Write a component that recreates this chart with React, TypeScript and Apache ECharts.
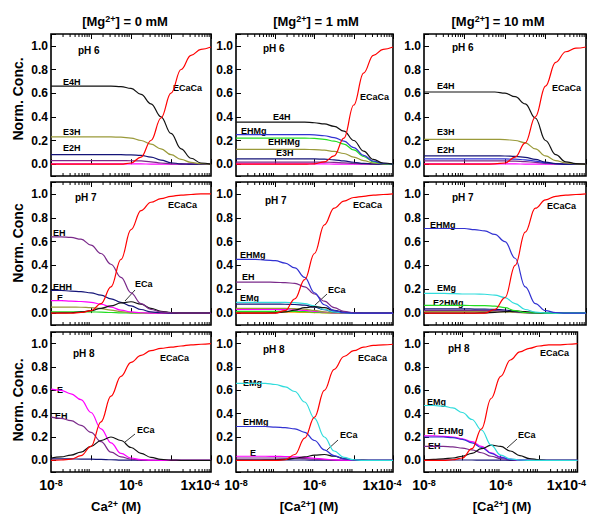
import React, { useEffect, useRef } from "react";
import * as echarts from "echarts";

// ---------- DATA ----------
// [Ca2+] sample points (M), quarter-decade steps from 1e-8 to 1e-4
const CA = [1e-8, 1.78e-8, 3.16e-8, 5.62e-8, 1e-7, 1.78e-7, 3.16e-7, 5.62e-7, 1e-6, 1.78e-6, 3.16e-6, 5.62e-6, 1e-5, 1.78e-5, 3.16e-5, 5.62e-5, 1e-4];
const MINOR_TICKS = [
  2e-8, 3e-8, 4e-8, 5e-8, 6e-8, 7e-8, 8e-8, 9e-8,
  2e-7, 3e-7, 4e-7, 5e-7, 6e-7, 7e-7, 8e-7, 9e-7,
  2e-6, 3e-6, 4e-6, 5e-6, 6e-6, 7e-6, 8e-6, 9e-6,
  2e-5, 3e-5, 4e-5, 5e-5, 6e-5, 7e-5, 8e-5, 9e-5,
];
const MG_LABELS = ["0", "1", "10"];
const PH_LABELS = ["pH 6", "pH 7", "pH 8"];
const Y_TITLES = ["Norm. Conc.", "Norm. Conc", "Norm. Conc."];

// pH 6, [Mg2+] = 0 mM
const p6m0_ECaCa = [0, 0, 0, 0, 0, 0, 0, 0, 0.01, 0.06, 0.2, 0.39, 0.6, 0.8, 0.92, 0.97, 0.99];
const p6m0_E4H = [0.66, 0.66, 0.66, 0.66, 0.66, 0.66, 0.66, 0.655, 0.64, 0.59, 0.51, 0.4, 0.26, 0.13, 0.05, 0.01, 0];
const p6m0_E3H = [0.23, 0.23, 0.23, 0.23, 0.23, 0.23, 0.23, 0.228, 0.22, 0.2, 0.17, 0.13, 0.08, 0.04, 0.015, 0.004, 0];
const p6m0_E2H = [0.08, 0.08, 0.08, 0.08, 0.08, 0.08, 0.08, 0.08, 0.078, 0.074, 0.06, 0.035, 0.012, 0.003, 0, 0, 0];
const p6m0_EH = [0.03, 0.03, 0.03, 0.03, 0.03, 0.03, 0.03, 0.03, 0.029, 0.027, 0.02, 0.01, 0.003, 0, 0, 0, 0];
const p6m0_E = [0.003, 0.003, 0.003, 0.003, 0.003, 0.003, 0.003, 0.003, 0.003, 0.002, 0.001, 0, 0, 0, 0, 0, 0];

// pH 6, [Mg2+] = 1 mM
const p6m1_ECaCa = [0, 0, 0, 0, 0, 0, 0, 0, 0.003, 0.02, 0.07, 0.22, 0.5, 0.77, 0.92, 0.97, 0.99];
const p6m1_E4H = [0.355, 0.355, 0.355, 0.355, 0.355, 0.355, 0.355, 0.355, 0.35, 0.34, 0.32, 0.28, 0.2, 0.11, 0.04, 0.01, 0];
const p6m1_EHMg = [0.25, 0.25, 0.25, 0.25, 0.25, 0.25, 0.25, 0.25, 0.248, 0.24, 0.225, 0.195, 0.14, 0.075, 0.025, 0.006, 0];
const p6m1_EHHMg = [0.22, 0.22, 0.22, 0.22, 0.22, 0.22, 0.22, 0.22, 0.218, 0.21, 0.195, 0.17, 0.12, 0.065, 0.02, 0.005, 0];
const p6m1_E3H = [0.125, 0.125, 0.125, 0.125, 0.125, 0.125, 0.125, 0.125, 0.123, 0.118, 0.108, 0.09, 0.06, 0.03, 0.01, 0.002, 0];
const p6m1_E2H = [0.045, 0.045, 0.045, 0.045, 0.045, 0.045, 0.045, 0.045, 0.044, 0.042, 0.037, 0.028, 0.016, 0.007, 0.002, 0, 0];
const p6m1_EH = [0.018, 0.018, 0.018, 0.018, 0.018, 0.018, 0.018, 0.018, 0.018, 0.017, 0.015, 0.011, 0.006, 0.003, 0.001, 0, 0];
const p6m1_E = [0.002, 0.002, 0.002, 0.002, 0.002, 0.002, 0.002, 0.002, 0.002, 0.002, 0.001, 0, 0, 0, 0, 0, 0];

// pH 6, [Mg2+] = 10 mM
const p6m10_ECaCa = [0, 0, 0, 0, 0, 0, 0, 0.002, 0.01, 0.06, 0.18, 0.4, 0.66, 0.86, 0.95, 0.98, 0.99];
const p6m10_E4H = [0.61, 0.61, 0.61, 0.61, 0.61, 0.61, 0.61, 0.61, 0.6, 0.57, 0.51, 0.39, 0.2, 0.08, 0.02, 0.005, 0];
const p6m10_E3H = [0.21, 0.21, 0.21, 0.21, 0.21, 0.21, 0.21, 0.21, 0.208, 0.2, 0.18, 0.13, 0.07, 0.03, 0.01, 0.002, 0];
const p6m10_E2H = [0.07, 0.07, 0.07, 0.07, 0.07, 0.07, 0.07, 0.07, 0.069, 0.066, 0.058, 0.04, 0.018, 0.005, 0.001, 0, 0];
const p6m10_EHMg = [0.045, 0.045, 0.045, 0.045, 0.045, 0.045, 0.045, 0.045, 0.044, 0.042, 0.037, 0.026, 0.012, 0.004, 0.001, 0, 0];
const p6m10_EH = [0.028, 0.028, 0.028, 0.028, 0.028, 0.028, 0.028, 0.028, 0.027, 0.026, 0.022, 0.015, 0.007, 0.002, 0, 0, 0];
const p6m10_E = [0.003, 0.003, 0.003, 0.003, 0.003, 0.003, 0.003, 0.003, 0.003, 0.002, 0.001, 0, 0, 0, 0, 0, 0];

// pH 7, [Mg2+] = 0 mM
const p7m0_ECaCa = [0, 0, 0, 0.005, 0.02, 0.08, 0.22, 0.45, 0.7, 0.86, 0.93, 0.96, 0.98, 0.99, 0.995, 1, 1];
const p7m0_EH = [0.64, 0.64, 0.635, 0.62, 0.57, 0.5, 0.41, 0.3, 0.17, 0.08, 0.03, 0.01, 0.003, 0, 0, 0, 0];
const p7m0_EHH = [0.19, 0.19, 0.185, 0.18, 0.17, 0.15, 0.12, 0.09, 0.06, 0.03, 0.01, 0.003, 0, 0, 0, 0, 0];
const p7m0_E = [0.105, 0.105, 0.1, 0.097, 0.09, 0.075, 0.05, 0.025, 0.01, 0.003, 0, 0, 0, 0, 0, 0, 0];
const p7m0_ECa = [0, 0.001, 0.003, 0.01, 0.02, 0.04, 0.06, 0.085, 0.095, 0.075, 0.04, 0.015, 0.005, 0, 0, 0, 0];
const p7m0_E2H = [0.05, 0.05, 0.05, 0.049, 0.046, 0.038, 0.025, 0.012, 0.004, 0.001, 0, 0, 0, 0, 0, 0, 0];
const p7m0_E3H = [0.01, 0.01, 0.01, 0.01, 0.01, 0.008, 0.005, 0.002, 0, 0, 0, 0, 0, 0, 0, 0, 0];

// pH 7, [Mg2+] = 1 mM
const p7m1_ECaCa = [0, 0, 0, 0, 0, 0.02, 0.12, 0.28, 0.5, 0.74, 0.88, 0.94, 0.97, 0.98, 0.99, 0.995, 1];
const p7m1_EHMg = [0.45, 0.45, 0.45, 0.445, 0.44, 0.42, 0.38, 0.3, 0.17, 0.07, 0.02, 0.005, 0, 0, 0, 0, 0];
const p7m1_EH = [0.26, 0.26, 0.26, 0.26, 0.258, 0.255, 0.25, 0.22, 0.16, 0.1, 0.045, 0.015, 0.003, 0, 0, 0, 0];
const p7m1_EMg = [0.09, 0.09, 0.09, 0.09, 0.09, 0.09, 0.088, 0.08, 0.06, 0.03, 0.01, 0.003, 0, 0, 0, 0, 0];
const p7m1_EHH = [0.075, 0.075, 0.075, 0.075, 0.075, 0.074, 0.072, 0.066, 0.05, 0.028, 0.01, 0.003, 0, 0, 0, 0, 0];
const p7m1_ECa = [0, 0, 0, 0, 0.002, 0.01, 0.025, 0.045, 0.055, 0.045, 0.022, 0.008, 0.002, 0, 0, 0, 0];
const p7m1_E2H = [0.04, 0.04, 0.04, 0.04, 0.04, 0.039, 0.037, 0.032, 0.022, 0.01, 0.003, 0.001, 0, 0, 0, 0, 0];
const p7m1_E = [0.03, 0.03, 0.03, 0.03, 0.03, 0.029, 0.027, 0.023, 0.015, 0.007, 0.002, 0, 0, 0, 0, 0, 0];
const p7m1_EHHMg = [0.015, 0.015, 0.015, 0.015, 0.015, 0.015, 0.014, 0.012, 0.008, 0.004, 0.001, 0, 0, 0, 0, 0, 0];
const p7m1_E2HMg = [0.008, 0.008, 0.008, 0.008, 0.008, 0.008, 0.007, 0.006, 0.004, 0.002, 0, 0, 0, 0, 0, 0, 0];

// pH 7, [Mg2+] = 10 mM
const p7m10_ECaCa = [0, 0, 0, 0, 0, 0, 0, 0.03, 0.13, 0.4, 0.68, 0.88, 0.95, 0.98, 0.99, 0.995, 1];
const p7m10_EHMg = [0.71, 0.71, 0.71, 0.71, 0.71, 0.7, 0.69, 0.66, 0.6, 0.46, 0.22, 0.08, 0.02, 0.005, 0, 0, 0];
const p7m10_EMg = [0.165, 0.165, 0.165, 0.163, 0.16, 0.16, 0.158, 0.15, 0.13, 0.08, 0.03, 0.008, 0.002, 0, 0, 0, 0];
const p7m10_E2HMg = [0.065, 0.065, 0.065, 0.065, 0.064, 0.063, 0.062, 0.058, 0.045, 0.02, 0.005, 0.001, 0, 0, 0, 0, 0];
const p7m10_EHH = [0.035, 0.035, 0.035, 0.035, 0.035, 0.034, 0.033, 0.031, 0.026, 0.015, 0.005, 0.001, 0, 0, 0, 0, 0];
const p7m10_EH = [0.022, 0.022, 0.022, 0.022, 0.022, 0.022, 0.021, 0.02, 0.017, 0.01, 0.004, 0.001, 0, 0, 0, 0, 0];
const p7m10_E2H = [0.012, 0.012, 0.012, 0.012, 0.012, 0.012, 0.012, 0.011, 0.009, 0.005, 0.002, 0, 0, 0, 0, 0, 0];
const p7m10_ECa = [0, 0, 0, 0, 0, 0, 0.002, 0.006, 0.012, 0.018, 0.012, 0.005, 0.001, 0, 0, 0, 0];

// pH 8, [Mg2+] = 0 mM
const p8m0_ECaCa = [0, 0.003, 0.01, 0.04, 0.12, 0.33, 0.55, 0.72, 0.84, 0.9, 0.94, 0.96, 0.97, 0.98, 0.99, 0.995, 1];
const p8m0_E = [0.61, 0.6, 0.57, 0.52, 0.41, 0.27, 0.15, 0.06, 0.02, 0.006, 0.001, 0, 0, 0, 0, 0, 0];
const p8m0_EH = [0.37, 0.36, 0.34, 0.3, 0.24, 0.16, 0.07, 0.03, 0.01, 0.003, 0, 0, 0, 0, 0, 0, 0];
const p8m0_ECa = [0.02, 0.03, 0.045, 0.07, 0.12, 0.17, 0.2, 0.17, 0.11, 0.06, 0.025, 0.008, 0.002, 0, 0, 0, 0];
const p8m0_EHH = [0.012, 0.012, 0.012, 0.011, 0.01, 0.008, 0.005, 0.002, 0.001, 0, 0, 0, 0, 0, 0, 0, 0];

// pH 8, [Mg2+] = 1 mM
const p8m1_ECaCa = [0, 0, 0, 0, 0, 0.005, 0.05, 0.19, 0.37, 0.6, 0.78, 0.89, 0.94, 0.97, 0.985, 0.99, 0.995];
const p8m1_EMg = [0.66, 0.66, 0.66, 0.66, 0.65, 0.63, 0.59, 0.5, 0.36, 0.2, 0.08, 0.025, 0.005, 0, 0, 0, 0];
const p8m1_EHMg = [0.29, 0.29, 0.29, 0.29, 0.285, 0.28, 0.27, 0.24, 0.17, 0.09, 0.04, 0.012, 0.003, 0, 0, 0, 0];
const p8m1_ECa = [0, 0, 0, 0.001, 0.003, 0.008, 0.018, 0.03, 0.045, 0.05, 0.035, 0.015, 0.004, 0.001, 0, 0, 0];
const p8m1_E = [0.035, 0.035, 0.035, 0.035, 0.034, 0.033, 0.03, 0.025, 0.018, 0.01, 0.004, 0.001, 0, 0, 0, 0, 0];
const p8m1_EH = [0.02, 0.02, 0.02, 0.02, 0.02, 0.019, 0.018, 0.015, 0.01, 0.005, 0.002, 0, 0, 0, 0, 0, 0];
const p8m1_EHH = [0.004, 0.004, 0.004, 0.004, 0.004, 0.004, 0.003, 0.003, 0.002, 0.001, 0, 0, 0, 0, 0, 0, 0];

// pH 8, [Mg2+] = 10 mM
const p8m10_ECaCa = [0, 0, 0, 0.005, 0.02, 0.1, 0.27, 0.53, 0.72, 0.86, 0.93, 0.96, 0.98, 0.99, 0.99, 0.995, 1];
const p8m10_EMg = [0.47, 0.47, 0.465, 0.45, 0.41, 0.35, 0.26, 0.13, 0.045, 0.012, 0.003, 0, 0, 0, 0, 0, 0];
const p8m10_E = [0.21, 0.21, 0.205, 0.2, 0.185, 0.16, 0.12, 0.065, 0.028, 0.01, 0.003, 0, 0, 0, 0, 0, 0];
const p8m10_EHMg = [0.2, 0.2, 0.2, 0.195, 0.18, 0.15, 0.11, 0.06, 0.025, 0.008, 0.002, 0, 0, 0, 0, 0, 0];
const p8m10_EH = [0.12, 0.12, 0.12, 0.115, 0.105, 0.09, 0.065, 0.035, 0.015, 0.005, 0.001, 0, 0, 0, 0, 0, 0];
const p8m10_ECa = [0.005, 0.008, 0.012, 0.02, 0.035, 0.06, 0.1, 0.13, 0.12, 0.08, 0.04, 0.015, 0.005, 0, 0, 0, 0];
const p8m10_EHH = [0.003, 0.003, 0.003, 0.003, 0.003, 0.003, 0.002, 0.002, 0.001, 0, 0, 0, 0, 0, 0, 0, 0];

// ---------- STYLE / LAYOUT ----------
const C = {
  red: "#ff0000",
  black: "#111111",
  olive: "#9a9a3a",
  navy: "#141478",
  purple: "#7a2a8a",
  magenta: "#ff00ff",
  cyan: "#30dcdc",
  blue: "#3232d2",
  green: "#22dd22",
  orange: "#ff9a00",
};
const FONT = "'Liberation Sans', Arial, Helvetica, sans-serif";
const COL_LEFT = [51, 236, 424];
const COL_WIDTH = [160, 157, 162];
const ROW_TOP = [34, 182, 332];
const ROW_HEIGHT = [142, 143, 140];

type S = [string, string, number[]];
type L = [string, number, number];

const PANELS: { series: S[]; labels: L[]; pointer?: number[]; ph: [number, number] }[] = [
  {
    series: [["E", C.magenta, p6m0_E], ["EH", C.purple, p6m0_EH], ["E2H", C.navy, p6m0_E2H], ["E3H", C.olive, p6m0_E3H], ["E4H", C.black, p6m0_E4H], ["ECaCa", C.red, p6m0_ECaCa]],
    labels: [["E4H", 63, 82], ["E3H", 63, 132], ["E2H", 63, 148], ["ECaCa", 173, 88]],
    ph: [78, 50],
  },
  {
    series: [["E", C.magenta, p6m1_E], ["EH", C.purple, p6m1_EH], ["E2H", C.navy, p6m1_E2H], ["E3H", C.olive, p6m1_E3H], ["EHHMg", C.green, p6m1_EHHMg], ["EHMg", C.blue, p6m1_EHMg], ["E4H", C.black, p6m1_E4H], ["ECaCa", C.red, p6m1_ECaCa]],
    labels: [["E4H", 273, 117], ["EHMg", 241, 131], ["EHHMg", 268, 142], ["E3H", 276, 153], ["ECaCa", 360, 97]],
    ph: [263, 48],
  },
  {
    series: [["E", C.magenta, p6m10_E], ["EH", C.purple, p6m10_EH], ["EHMg", C.blue, p6m10_EHMg], ["E2H", C.navy, p6m10_E2H], ["E3H", C.olive, p6m10_E3H], ["E4H", C.black, p6m10_E4H], ["ECaCa", C.red, p6m10_ECaCa]],
    labels: [["E4H", 437, 86], ["E3H", 437, 132], ["E2H", 437, 150], ["ECaCa", 552, 88]],
    ph: [452, 47],
  },
  {
    series: [["E3H", C.green, p7m0_E3H], ["E2H", C.olive, p7m0_E2H], ["E", C.magenta, p7m0_E], ["EHH", C.navy, p7m0_EHH], ["ECa", C.black, p7m0_ECa], ["EH", C.purple, p7m0_EH], ["ECaCa", C.red, p7m0_ECaCa]],
    labels: [["EH", 53, 233], ["EHH", 53, 287], ["E", 57, 298], ["ECa", 135, 284], ["ECaCa", 168, 205]],
    pointer: [135, 290, 125, 301],
    ph: [75, 197],
  },
  {
    series: [["E2HMg", C.orange, p7m1_E2HMg], ["EHHMg", C.green, p7m1_EHHMg], ["E", C.magenta, p7m1_E], ["E2H", C.olive, p7m1_E2H], ["EHH", C.navy, p7m1_EHH], ["EMg", C.cyan, p7m1_EMg], ["ECa", C.black, p7m1_ECa], ["EH", C.purple, p7m1_EH], ["EHMg", C.blue, p7m1_EHMg], ["ECaCa", C.red, p7m1_ECaCa]],
    labels: [["EHMg", 240, 255], ["EH", 242, 277], ["EMg", 240, 298], ["ECa", 328, 290], ["ECaCa", 353, 205]],
    pointer: [327, 294, 315, 305],
    ph: [265, 200],
  },
  {
    series: [["E2H", C.olive, p7m10_E2H], ["EH", C.purple, p7m10_EH], ["EHH", C.navy, p7m10_EHH], ["ECa", C.black, p7m10_ECa], ["E2HMg", C.green, p7m10_E2HMg], ["EMg", C.cyan, p7m10_EMg], ["EHMg", C.blue, p7m10_EHMg], ["ECaCa", C.red, p7m10_ECaCa]],
    labels: [["EHMg", 430, 225], ["EMg", 437, 288], ["E2HMg", 433, 303], ["ECaCa", 547, 206]],
    ph: [452, 197],
  },
  {
    series: [["EHH", C.navy, p8m0_EHH], ["EH", C.purple, p8m0_EH], ["E", C.magenta, p8m0_E], ["ECa", C.black, p8m0_ECa], ["ECaCa", C.red, p8m0_ECaCa]],
    labels: [["E", 57, 390], ["EH", 55, 416], ["ECa", 137, 430], ["ECaCa", 160, 358]],
    pointer: [135, 434, 125, 442],
    ph: [73, 353],
  },
  {
    series: [["EHH", C.navy, p8m1_EHH], ["EH", C.purple, p8m1_EH], ["E", C.magenta, p8m1_E], ["ECa", C.black, p8m1_ECa], ["EHMg", C.blue, p8m1_EHMg], ["EMg", C.cyan, p8m1_EMg], ["ECaCa", C.red, p8m1_ECaCa]],
    labels: [["EMg", 243, 383], ["EHMg", 243, 422], ["E", 250, 453], ["ECa", 340, 435], ["ECaCa", 358, 358]],
    pointer: [338, 440, 327, 450],
    ph: [263, 349],
  },
  {
    series: [["EHH", C.navy, p8m10_EHH], ["EH", C.purple, p8m10_EH], ["E", C.magenta, p8m10_E], ["EHMg", C.blue, p8m10_EHMg], ["ECa", C.black, p8m10_ECa], ["EMg", C.cyan, p8m10_EMg], ["ECaCa", C.red, p8m10_ECaCa]],
    labels: [["EMg", 427, 402], ["E, EHMg", 427, 431], ["EH", 428, 446], ["ECa", 518, 435], ["ECaCa", 540, 353]],
    pointer: [517, 439, 507, 448],
    ph: [448, 348],
  },
];

function buildOption() {
  const grid: any[] = [];
  const xAxis: any[] = [];
  const yAxis: any[] = [];
  const series: any[] = [];
  const graphic: any[] = [];

  for (let r = 0; r < 3; r++) {
    for (let c = 0; c < 3; c++) {
      const idx = r * 3 + c;
      const panel = PANELS[idx];
      grid.push({
        left: COL_LEFT[c], top: ROW_TOP[r], width: COL_WIDTH[c], height: ROW_HEIGHT[r],
        show: true, borderColor: "#000", borderWidth: 1.6, backgroundColor: "transparent",
      });
      const baseX = {
        type: "log", logBase: 10, min: 1e-8, max: 1e-4, gridIndex: idx,
        axisLine: { show: false },
        axisTick: { show: true, inside: true, length: 5, lineStyle: { color: "#000", width: 1 } },
        splitLine: { show: false },
        minorTick: { show: false },
      };
      xAxis.push({
        ...baseX,
        position: "bottom",
        axisLabel: r === 2 ? {
          show: true, margin: 6, color: "#000", showMinLabel: true, showMaxLabel: true,
          formatter: (v: number) => {
            const e = Math.round(Math.log10(v));
            if (e === -8) return "{b|10}{s|-8}";
            if (e === -6) return "{b|10}{s|-6}";
            if (e === -4) return "{b|1x10}{s|-4}{g|}";
            return "";
          },
          rich: {
            b: { fontSize: 14, fontWeight: "bold", fontFamily: FONT, color: "#000" },
            s: { fontSize: 9, fontWeight: "bold", fontFamily: FONT, color: "#000", verticalAlign: "top" },
            g: { width: 22 },
          },
        } : { show: false },
      });
      xAxis.push({ ...baseX, position: "top", axisLabel: { show: false } });
      yAxis.push({
        type: "value", min: -0.1, max: 1.1, splitNumber: 6, gridIndex: idx,
        axisLine: { show: false },
        axisTick: { show: true, inside: true, length: 5, lineStyle: { color: "#000", width: 1 } },
        splitLine: { show: false },
        axisLabel: {
          show: true, margin: 3, color: "#000", fontSize: 12, fontWeight: "bold", fontFamily: FONT,
          formatter: (v: number) => {
            if (v < -0.01 || v > 1.01) return "";
            const a = Math.abs(v) < 1e-9 ? 0 : v;
            return a.toFixed(1);
          },
        },
      });
      // minor log ticks (bottom & top)
      series.push({
        type: "custom", xAxisIndex: 2 * idx, yAxisIndex: idx, silent: true, clip: false, z: 5,
        data: MINOR_TICKS.map((v) => [v, 0]),
        renderItem: (params: any, api: any) => {
          const x = api.coord([api.value(0), 0])[0];
          const cs = params.coordSys;
          const yb = cs.y + cs.height;
          return {
            type: "group",
            children: [
              { type: "line", shape: { x1: x, y1: yb, x2: x, y2: yb - 3 }, style: { stroke: "#000", lineWidth: 1 } },
              { type: "line", shape: { x1: x, y1: cs.y, x2: x, y2: cs.y + 3 }, style: { stroke: "#000", lineWidth: 1 } },
            ],
          };
        },
      });
      for (const [name, color, vals] of panel.series) {
        series.push({
          type: "line", name, xAxisIndex: 2 * idx, yAxisIndex: idx,
          data: CA.map((x, i) => [x, vals[i]]),
          showSymbol: false, symbol: "none", smooth: 0.4, smoothMonotone: "x",
          lineStyle: { color, width: 1.2 }, itemStyle: { color }, silent: true,
        });
      }
      // texts
      graphic.push({
        type: "text", x: panel.ph[0], y: panel.ph[1],
        style: { text: PH_LABELS[r], fill: "#000", font: `bold 10px ${FONT}`, textAlign: "left", textVerticalAlign: "middle", align: "left", verticalAlign: "middle" },
      });
      for (const [t, lx, ly] of panel.labels) {
        graphic.push({
          type: "text", x: lx, y: ly,
          style: { text: t, fill: "#000", font: `bold 9px ${FONT}`, textAlign: "left", textVerticalAlign: "middle", align: "left", verticalAlign: "middle" },
        });
      }
      if (panel.pointer) {
        const p = panel.pointer;
        graphic.push({ type: "line", shape: { x1: p[0], y1: p[1], x2: p[2], y2: p[3] }, style: { stroke: "#000", lineWidth: 0.8 } });
      }
    }
  }

  const titleX = [125, 316, 498];
  for (let c = 0; c < 3; c++) {
    graphic.push({
      type: "text", x: titleX[c], y: 21,
      style: {
        text: `{t|[Mg}{s|2+}{t|] = ${MG_LABELS[c]} mM}`,
        textAlign: "center", textVerticalAlign: "middle", align: "center", verticalAlign: "middle",
        rich: {
          t: { fontSize: 13, fontWeight: "bold", fontFamily: FONT, fill: "#000", color: "#000" },
          s: { fontSize: 9, fontWeight: "bold", fontFamily: FONT, fill: "#000", color: "#000", verticalAlign: "top" },
        },
      },
    });
  }
  const yTitleY = [99, 243, 400];
  for (let r = 0; r < 3; r++) {
    graphic.push({
      type: "text", x: 18, y: yTitleY[r], rotation: Math.PI / 2,
      style: { text: Y_TITLES[r], fill: "#000", font: `bold 14px ${FONT}`, textAlign: "center", textVerticalAlign: "middle", align: "center", verticalAlign: "middle" },
    });
  }
  const xTitleX = [116, 309, 502];
  const xTitles = ["{t|Ca}{s|2+}{t| (M)}", "{t|[Ca}{s|2+}{t|] (M)}", "{t|[Ca}{s|2+}{t|] (M)}"];
  for (let c = 0; c < 3; c++) {
    graphic.push({
      type: "text", x: xTitleX[c], y: 506,
      style: {
        text: xTitles[c],
        textAlign: "center", textVerticalAlign: "middle", align: "center", verticalAlign: "middle",
        rich: {
          t: { fontSize: 13, fontWeight: "bold", fontFamily: FONT, fill: "#000", color: "#000" },
          s: { fontSize: 9, fontWeight: "bold", fontFamily: FONT, fill: "#000", color: "#000", verticalAlign: "top" },
        },
      },
    });
  }

  return {
    animation: false,
    backgroundColor: "#fff",
    textStyle: { fontFamily: FONT },
    grid, xAxis, yAxis, series, graphic,
  };
}

export default function App() {
  const ref = useRef<HTMLDivElement>(null);
  useEffect(() => {
    const chart = echarts.init(ref.current!, null, { renderer: "svg" });
    chart.setOption(buildOption() as any);
    return () => chart.dispose();
  }, []);
  return (
    <div
      ref={ref}
      style={{ position: "absolute", left: 0, top: 0, width: 600, height: 519, background: "#fff" }}
    />
  );
}
